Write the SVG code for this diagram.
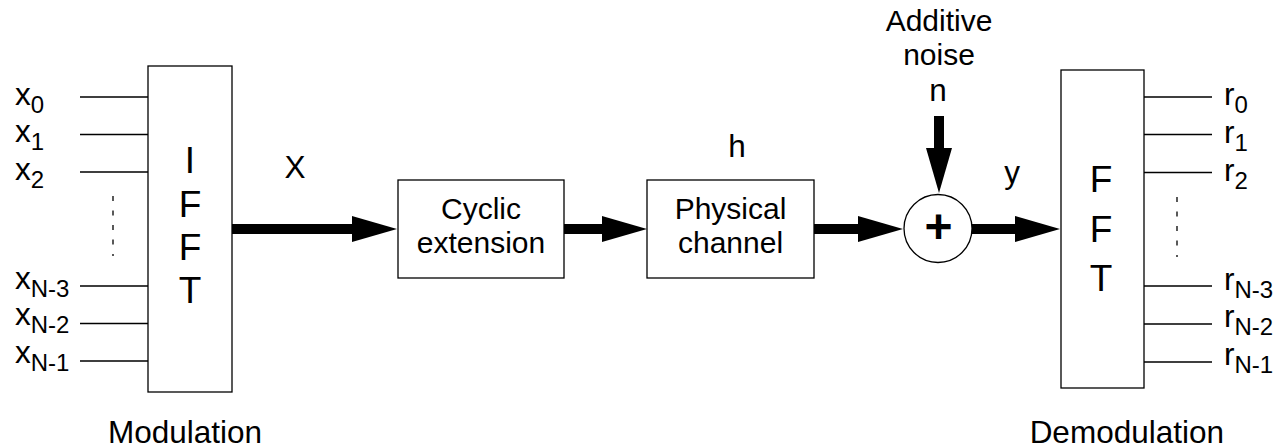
<svg xmlns="http://www.w3.org/2000/svg" width="1283" height="448" viewBox="0 0 1283 448">
  <style>
    text { font-family: "Liberation Sans", Arial, sans-serif; fill: #000; }
    .lbl { font-size: 31.5px; }
    .two { font-size: 30px; text-anchor: middle; }
    .mid { text-anchor: middle; }
    .big { font-size: 37px; text-anchor: middle; }
    .sub { font-size: 24px; }
    .box { fill: #fff; stroke: #000; stroke-width: 1.3; }
    .tap { stroke: #000; stroke-width: 1.3; fill: none; }
    .dots { stroke: #000; stroke-width: 1.3; stroke-dasharray: 5 9.5; fill: none; }
    .bus { stroke: #000; stroke-width: 10; fill: none; marker-end: url(#head); }
  </style>
  <defs>
    <marker id="head" markerUnits="userSpaceOnUse" viewBox="0 0 45 26" refX="1" refY="13" markerWidth="45" markerHeight="26" orient="auto">
      <path d="M0,0 L45,13 L0,26 Z" fill="#000"/>
    </marker>
  </defs>

  <rect width="1283" height="448" fill="#fff"/>

  <!-- IFFT modulator with its parallel inputs -->
  <g id="ifft">
    <rect class="box" x="148" y="66" width="84" height="326"/>
    <text class="big" x="190" y="173">I</text>
    <text class="big" x="190" y="217">F</text>
    <text class="big" x="190" y="260">F</text>
    <text class="big" x="190" y="303">T</text>
    <path class="tap" d="M80,97H148 M80,134.5H148 M80,172H148 M80,286H148 M80,323.5H148 M80,361H148"/>
    <path class="dots" d="M113,196V256"/>
    <text class="lbl" x="15" y="105">x<tspan class="sub" dy="8">0</tspan></text>
    <text class="lbl" x="15" y="142">x<tspan class="sub" dy="8">1</tspan></text>
    <text class="lbl" x="15" y="180">x<tspan class="sub" dy="8">2</tspan></text>
    <text class="lbl" x="15" y="289">x<tspan class="sub" dy="8">N-3</tspan></text>
    <text class="lbl" x="15" y="325">x<tspan class="sub" dy="8">N-2</tspan></text>
    <text class="lbl" x="15" y="363">x<tspan class="sub" dy="8">N-1</tspan></text>
    <text class="lbl mid" x="185" y="443">Modulation</text>
  </g>

  <!-- cyclic prefix insertion -->
  <g id="cyclic">
    <rect class="box" x="398" y="180" width="166" height="98"/>
    <text class="two" x="481" y="218.5">Cyclic</text>
    <text class="two" x="481" y="252.5">extension</text>
  </g>

  <!-- channel impulse response -->
  <g id="channel">
    <rect class="box" x="647" y="180" width="167" height="98"/>
    <text class="two" x="730.5" y="218.5">Physical</text>
    <text class="two" x="730.5" y="252.5">channel</text>
    <text class="lbl mid" x="737" y="156.5">h</text>
  </g>

  <!-- noise summing junction -->
  <g id="adder">
    <circle class="box" cx="938" cy="228.5" r="34"/>
    <text class="mid" x="938.5" y="243" font-size="48" font-weight="bold">+</text>
    <text class="two" x="939" y="31">Additive</text>
    <text class="two" x="939" y="65">noise</text>
    <text class="lbl mid" x="938" y="101">n</text>
  </g>

  <!-- FFT demodulator with its parallel outputs -->
  <g id="fft">
    <rect class="box" x="1061" y="70" width="83" height="318"/>
    <text class="big" x="1101" y="192">F</text>
    <text class="big" x="1101" y="241.5">F</text>
    <text class="big" x="1101" y="290.5">T</text>
    <path class="tap" d="M1144,97H1212 M1144,134.5H1212 M1144,172.5H1212 M1144,286H1212 M1144,324H1212 M1144,362H1212"/>
    <path class="dots" d="M1177,197V257"/>
    <text class="lbl" x="1224" y="105">r<tspan class="sub" dy="8">0</tspan></text>
    <text class="lbl" x="1224" y="143">r<tspan class="sub" dy="8">1</tspan></text>
    <text class="lbl" x="1224" y="181">r<tspan class="sub" dy="8">2</tspan></text>
    <text class="lbl" x="1224" y="290">r<tspan class="sub" dy="8">N-3</tspan></text>
    <text class="lbl" x="1224" y="327">r<tspan class="sub" dy="8">N-2</tspan></text>
    <text class="lbl" x="1224" y="365">r<tspan class="sub" dy="8">N-1</tspan></text>
    <text class="lbl" x="1224" y="443" text-anchor="end">Demodulation</text>
  </g>

  <!-- signal path -->
  <g id="connectors">
    <path class="bus" d="M232,229H353"/>
    <path class="bus" d="M564,229H603"/>
    <path class="bus" d="M814,229H859"/>
    <path class="bus" d="M972,229H1016"/>
    <path class="bus" d="M939,116V149"/>
    <text class="lbl mid" x="295" y="178">X</text>
    <text class="lbl mid" x="1012" y="183">y</text>
  </g>
</svg>
